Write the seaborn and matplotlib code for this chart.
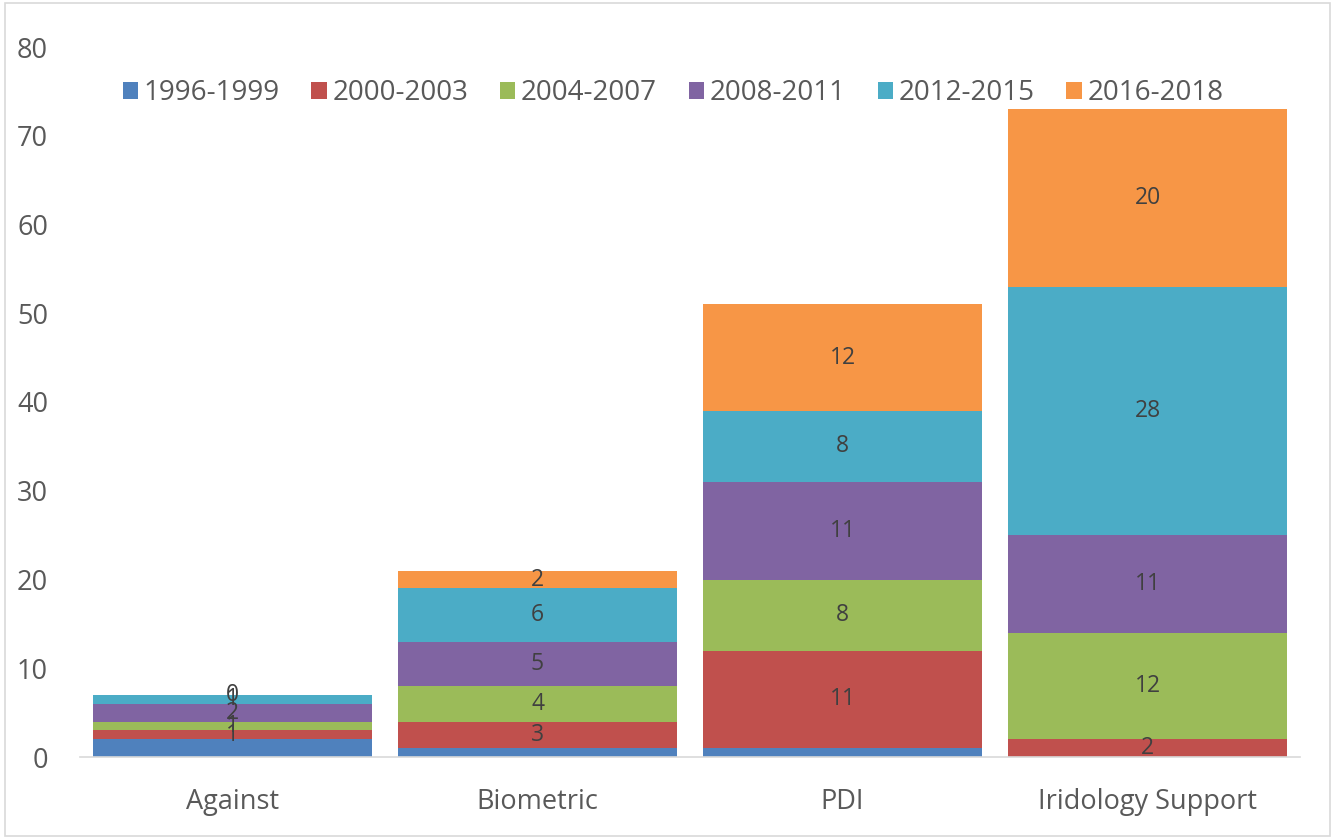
import matplotlib
matplotlib.use("Agg")
import matplotlib.pyplot as plt
from matplotlib.patches import Patch, Rectangle
import numpy as np
import pandas as pd
import seaborn as sns

categories = ["Against", "Biometric", "PDI", "Iridology Support"]
periods = ["1996-1999", "2000-2003", "2004-2007", "2008-2011", "2012-2015", "2016-2018"]
v1996_1999 = [2, 1, 1, 0]
v2000_2003 = [1, 3, 11, 2]
v2004_2007 = [1, 4, 8, 12]
v2008_2011 = [2, 5, 11, 11]
v2012_2015 = [1, 6, 8, 28]
v2016_2018 = [0, 2, 12, 20]
series = [v1996_1999, v2000_2003, v2004_2007, v2008_2011, v2012_2015, v2016_2018]
colors = ["#4F81BD", "#C0504D", "#9BBB59", "#8064A2", "#4BACC6", "#F79646"]
yticks = [0, 10, 20, 30, 40, 50, 60, 70, 80]

sns.set_theme(style="white")
plt.rcParams["font.family"] = ["Open Sans", "DejaVu Sans"]

fig = plt.figure(figsize=(13.35, 8.39), dpi=100)
ax = fig.add_axes([80 / 1335, 1 - 757 / 839, 1220 / 1335, 710 / 839])

bottom = np.zeros(len(categories))
for name, vals, col in zip(periods, series, colors):
    df = pd.DataFrame({"category": categories, "value": vals})
    sns.barplot(data=df, x="category", y="value", order=categories,
                bottom=bottom, color=col, saturation=1, width=0.915,
                errorbar=None, ax=ax, linewidth=0)
    if name != periods[0]:
        ax.bar_label(ax.containers[-1], labels=[str(v) for v in vals],
                     label_type="center", fontsize=16.5, color="#404040")
    bottom = bottom + np.array(vals)

ax.set_ylim(0, 80)
ax.set_xlim(-0.5, 3.5)
ax.set_yticks(yticks)
ax.set_yticklabels([str(t) for t in yticks])
ax.set_xlabel("")
ax.set_ylabel("")
ax.tick_params(axis="y", labelsize=19.5, labelcolor="#595959", length=0, pad=23)
ax.tick_params(axis="x", labelsize=19.5, labelcolor="#595959", length=0, pad=22)
for s in ["top", "right", "left"]:
    ax.spines[s].set_visible(False)
ax.spines["bottom"].set_color("#D9D9D9")
ax.spines["bottom"].set_linewidth(1.2)
ax.grid(False)

handles = [Patch(facecolor=c, edgecolor="none") for c in colors]
fig.legend(handles, periods, loc="center", bbox_to_anchor=(673 / 1335, 1 - 93 / 839),
           ncol=6, frameon=False, fontsize=20, handlelength=0.55, handleheight=0.55,
           handletextpad=0.2, columnspacing=1.15, labelcolor="#595959")

fig.patches.append(Rectangle((0.004, 0.004), 0.992, 0.992, transform=fig.transFigure,
                             fill=False, edgecolor="#D9D9D9", linewidth=1.2))

fig.savefig("out.png", dpi=100, facecolor="white")
